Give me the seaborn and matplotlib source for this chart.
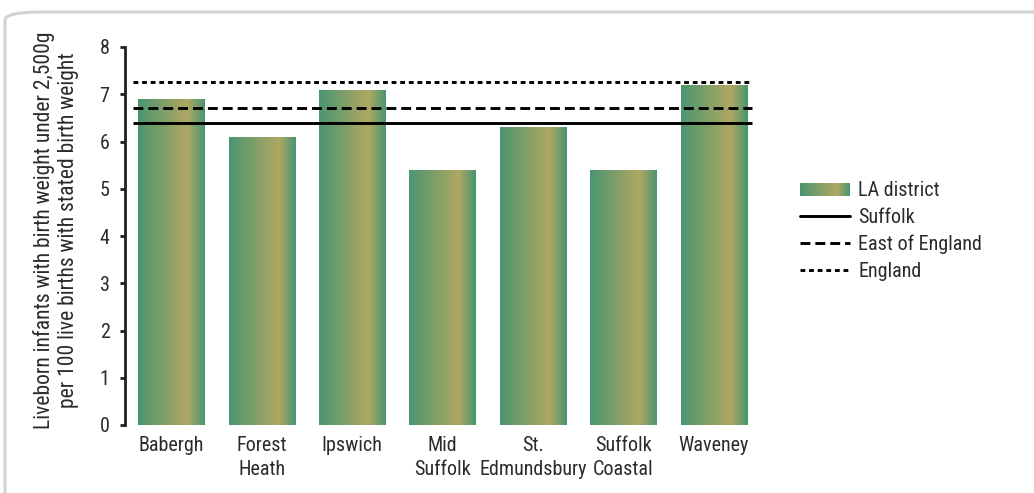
import numpy as np
import pandas as pd
import matplotlib
matplotlib.use("Agg")
import matplotlib.pyplot as plt
import seaborn as sns
from matplotlib import font_manager
from matplotlib.colors import LinearSegmentedColormap
from matplotlib.patches import Rectangle, FancyBboxPatch
from matplotlib.lines import Line2D
from matplotlib.legend_handler import HandlerBase

# ---- data ----
districts = ["Babergh", "Forest\nHeath", "Ipswich", "Mid\nSuffolk", "St.\nEdmundsbury",
             "Suffolk\nCoastal", "Waveney"]
la_values = [6.9, 6.1, 7.1, 5.4, 6.3, 5.4, 7.2]
suffolk_value = 6.4
east_value = 6.7
england_value = 7.25
series_labels = ["LA district", "Suffolk", "East of England", "England"]
y_ticks = [0, 1, 2, 3, 4, 5, 6, 7, 8]
y_label = "Liveborn infants with birth weight under 2,500g\nper 100 live births with stated birth weight"

# ---- style ----
sns.set_theme(style="white")
available = {f.name for f in font_manager.fontManager.ttflist}
fam = [f for f in ["Liberation Sans Narrow", "Roboto Condensed", "Open Sans Condensed",
                   "Liberation Sans", "DejaVu Sans"] if f in available]
plt.rcParams["font.family"] = fam + ["DejaVu Sans"]
text_color = "#2b2b2b"

green = "#4b9570"
yellow = "#b0a862"
cmap = LinearSegmentedColormap.from_list("bar", [(0, green), (0.74, yellow), (1, green)])

fig = plt.figure(figsize=(10.34, 4.93), dpi=100)
ax = fig.add_axes([125 / 1034, 1 - 425 / 493, 634 / 1034, 378 / 493])

df = pd.DataFrame({"district": districts, "value": la_values})
sns.barplot(data=df, x="district", y="value", ax=ax, width=0.73, color=green,
            saturation=1, edgecolor="none")

grad = np.linspace(0, 1, 256).reshape(1, -1)
for p in ax.patches:
    x0, y0 = p.get_x(), p.get_y()
    w, h = p.get_width(), p.get_height()
    im = ax.imshow(grad, cmap=cmap, aspect="auto", extent=[x0, x0 + w, y0, y0 + h],
                   zorder=2, interpolation="bicubic")
    im.set_clip_path(p)
    p.set_facecolor("none")

lw = 2.1
dash_east = (0, (3.4, 1.7))
dash_eng = (0, (1.65, 1.3))
n = len(districts)
line_start, line_end = -0.42, n - 1 + 0.42
ax.hlines(suffolk_value, line_start, line_end, color="black", lw=lw, zorder=3)
ax.hlines(east_value, line_start, line_end, color="black", lw=lw, linestyles=[dash_east], zorder=3)
ax.hlines(england_value, line_start, line_end, color="black", lw=lw, linestyles=[dash_eng], zorder=3)

ax.set_xlim(-0.51, n - 0.5)
ax.set_ylim(0, 8)
ax.set_yticks(y_ticks)
ax.set_yticklabels([str(t) for t in y_ticks])
ax.set_xlabel("")
ax.set_ylabel(y_label, fontsize=15.5, color=text_color, linespacing=1.2)
ax.yaxis.set_label_coords(-0.073, 0.515)

for s in ["top", "right", "bottom"]:
    ax.spines[s].set_visible(False)
ax.spines["left"].set_color("#231f20")
ax.spines["left"].set_linewidth(2.0)
ax.tick_params(axis="y", which="major", left=True, length=3.6, width=2.0,
               color="#231f20", labelsize=14.5, labelcolor=text_color, pad=7.5)
ax.tick_params(axis="x", bottom=False, labelsize=14.5, labelcolor=text_color, pad=2)
for lab in ax.get_xticklabels():
    lab.set_linespacing(1.3)
    lab.set_verticalalignment("top")


class GradientHandler(HandlerBase):
    def create_artists(self, legend, orig_handle, xdescent, ydescent, width, height,
                       fontsize, trans):
        k = 60
        arts = []
        for i in range(k):
            r = Rectangle((-xdescent + i * width / k, -ydescent + height * 0.05),
                          width / k * 1.08, height * 0.9,
                          facecolor=cmap(i / (k - 1)), edgecolor="none", transform=trans)
            arts.append(r)
        return arts


grad_handle = Rectangle((0, 0), 1, 1)
handles = [
    grad_handle,
    Line2D([], [], color="black", lw=lw),
    Line2D([], [], color="black", lw=lw, ls=dash_east),
    Line2D([], [], color="black", lw=lw, ls=dash_eng),
]
leg = fig.legend(handles, series_labels, handler_map={Rectangle: GradientHandler()},
                 loc="center left", bbox_to_anchor=(0.760, 0.531),
                 bbox_transform=fig.transFigure, frameon=False, fontsize=14.5,
                 handlelength=2.5, handletextpad=0.4, labelspacing=0.38,
                 borderpad=0.2)
for t in leg.get_texts():
    t.set_color(text_color)

# rounded frame
frame = FancyBboxPatch((5 / 1034, -0.2), 1.2, (493 - 12) / 493 + 0.2,
                       boxstyle="round,pad=0,rounding_size=0.035",
                       transform=fig.transFigure, facecolor="none",
                       edgecolor="#d3d3cf", lw=2.2, zorder=-1,
                       mutation_aspect=493 / 1034)
fig.patches.append(frame)

fig.savefig("out.png", dpi=100)
